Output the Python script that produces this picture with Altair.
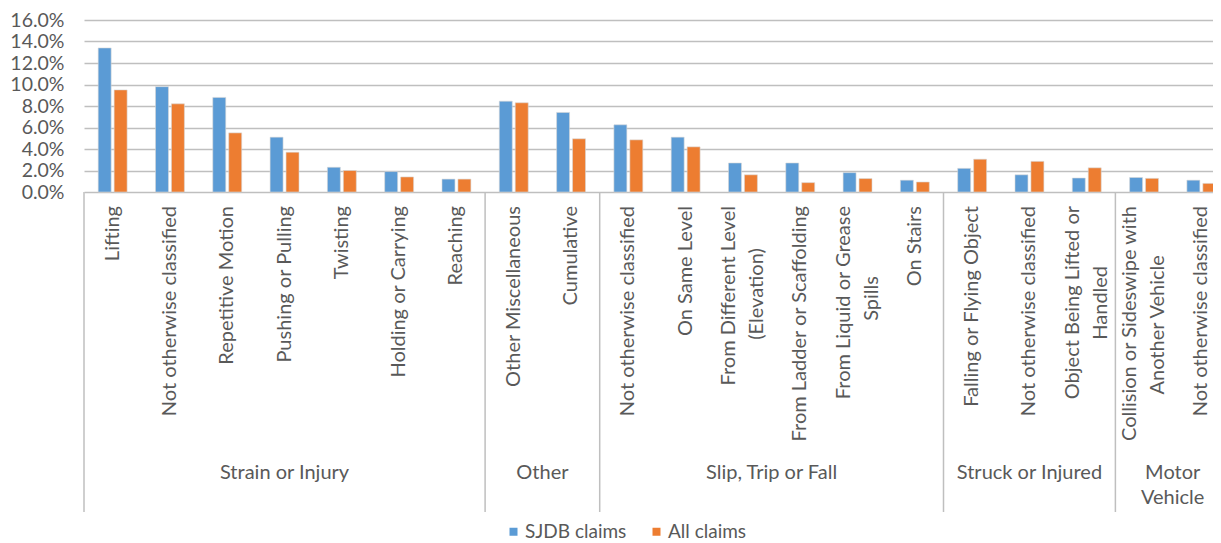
import altair as alt
import pandas as pd

categories = [
    "Lifting", "Not otherwise classified", "Repetitive Motion", "Pushing or Pulling",
    "Twisting", "Holding or Carrying", "Reaching",
    "Other Miscellaneous", "Cumulative",
    "Not otherwise classified", "On Same Level", "From Different Level\n(Elevation)",
    "From Ladder or Scaffolding", "From Liquid or Grease\nSpills", "On Stairs",
    "Falling or Flying Object", "Not otherwise classified", "Object Being Lifted or\nHandled",
    "Collision or Sideswipe with\nAnother Vehicle", "Not otherwise classified",
]
group_names = ["Strain or Injury", "Other", "Slip, Trip or Fall", "Struck or Injured", "Motor\nVehicle"]
group_sizes = [7, 2, 6, 3, 2]
sjdb = [13.4, 9.8, 8.8, 5.1, 2.3, 1.9, 1.2, 8.45, 7.4, 6.25, 5.1, 2.7, 2.7, 1.8, 1.1, 2.2, 1.6, 1.3, 1.35, 1.1]
all_claims = [9.5, 8.2, 5.5, 3.7, 2.0, 1.4, 1.2, 8.3, 4.95, 4.85, 4.2, 1.6, 0.87, 1.25, 0.93, 3.05, 2.85, 2.25, 1.27, 0.8]
series_names = ["SJDB claims", "All claims"]
colors = ["#5B9BD5", "#ED7D31"]
y_ticks = [0, 0.02, 0.04, 0.06, 0.08, 0.10, 0.12, 0.14, 0.16]

FONT = "Lato"
FS = 20
TXT = "#595959"
GRID = "#bfbfbf"
n = len(categories)
X_RANGE = [0, 1146]
PLOT_H = 172
LABEL_TOP = 186
CHAR_W = 8.8

rows = []
for i, (a, b) in enumerate(zip(sjdb, all_claims)):
    rows.append({"idx": i, "series": series_names[0], "value": a / 100})
    rows.append({"idx": i, "series": series_names[1], "value": b / 100})
bars_df = pd.DataFrame(rows)

single, first, second = [], [], []
for i, c in enumerate(categories):
    parts = c.split("\n")
    if len(parts) == 1:
        single.append({"idx": i, "t": parts[0]})
    else:
        first.append({"idx": i, "t": parts[0]})
        second.append({"idx": i, "t": parts[1], "yp": LABEL_TOP + len(parts[0]) * CHAR_W / 2})
single_df, first_df, second_df = pd.DataFrame(single), pd.DataFrame(first), pd.DataFrame(second)

starts = []
s = 0
for g in group_sizes:
    starts.append(s)
    s += g
groups_df = pd.DataFrame({"g": group_names, "center": [st + sz / 2 for st, sz in zip(starts, group_sizes)]})
div_df = pd.DataFrame({"b": starts})

xband = alt.X("idx:O", axis=None,
              scale=alt.Scale(domain=list(range(n)), range=X_RANGE, paddingInner=0, paddingOuter=0))
xq = alt.Scale(domain=[0, n], range=X_RANGE)

bars = alt.Chart(bars_df).mark_bar(stroke="#d6d6d6", strokeWidth=0.6).encode(
    x=xband,
    xOffset=alt.XOffset("series:N", sort=series_names,
                        scale=alt.Scale(domain=series_names, paddingInner=0.1875, paddingOuter=0.89)),
    y=alt.Y("value:Q", scale=alt.Scale(domain=[0, 0.16]),
            axis=alt.Axis(values=y_ticks, format=".1%", title=None, domain=False, ticks=False,
                          labelPadding=20, labelFont=FONT, labelFontSize=19.5, labelColor=TXT,
                          grid=True, gridColor=GRID, gridWidth=1.5)),
    color=alt.Color("series:N", sort=series_names,
                    scale=alt.Scale(domain=series_names, range=colors),
                    legend=alt.Legend(title=None, orient="none", legendX=420, legendY=502,
                                      direction="horizontal", symbolType="square", symbolSize=64,
                                      symbolStrokeWidth=0, labelFont=FONT, labelFontSize=19,
                                      labelColor=TXT, columnPadding=20, labelOffset=2, padding=0)),
)

txt_kw = dict(angle=270, font=FONT, fontSize=FS, color=TXT, baseline="middle")
lab_single = alt.Chart(single_df).mark_text(align="right", **txt_kw).encode(
    x=xband, y=alt.value(LABEL_TOP), text="t:N")
lab_first = alt.Chart(first_df).mark_text(align="right", dy=-14, **txt_kw).encode(
    x=xband, y=alt.value(LABEL_TOP), text="t:N")
lab_second = alt.Chart(second_df).mark_text(align="center", dy=14, **txt_kw).encode(
    x=xband, y=alt.Y("yp:Q", scale=None), text="t:N")

group_lab = alt.Chart(groups_df).mark_text(
    align="center", baseline="top", font=FONT, fontSize=FS, color=TXT, lineBreak="\n", lineHeight=25
).encode(x=alt.X("center:Q", scale=xq, axis=None), y=alt.value(443), text="g:N")

dividers = alt.Chart(div_df).mark_rule(color=GRID, strokeWidth=1.5).encode(
    x=alt.X("b:Q", scale=xq, axis=None), y=alt.value(PLOT_H), y2=alt.value(492))

chart = alt.layer(bars, lab_single, lab_first, lab_second, group_lab, dividers).resolve_scale(
    x="independent"
).properties(
    width=1129, height=PLOT_H,
    padding={"left": 76, "top": 12, "right": 0, "bottom": 351},
    autosize=alt.AutoSizeParams(type="none"),
).configure_view(stroke=None)

chart.save("out.html", embed_options={"renderer": "svg", "actions": False})
